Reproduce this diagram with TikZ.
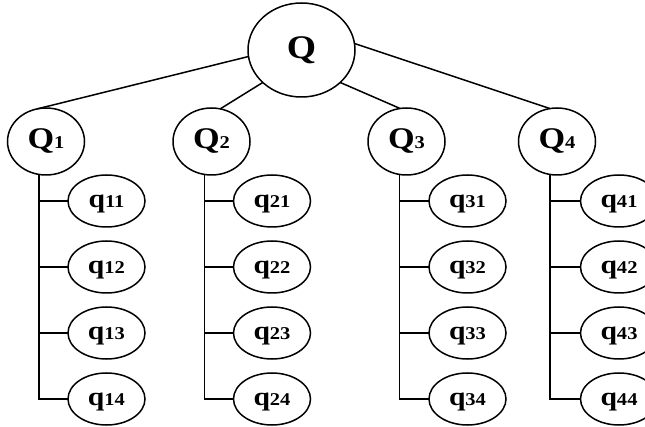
\documentclass[tikz,border=0pt]{standalone}
\usepackage{fontspec}
\setmainfont{Liberation Serif}[FakeStretch=1.14]
\usetikzlibrary{shapes.geometric}
\newcommand\smd[1]{{\fontsize{18}{18}\selectfont #1}}
\begin{document}
\begin{tikzpicture}[x=1pt,y=-1pt,line width=1.5pt,
  topnode/.style={ellipse,draw,minimum width=107pt,minimum height=94pt,inner sep=0pt,outer sep=0pt,font=\bfseries\fontsize{33}{33}\selectfont},
  midnode/.style={ellipse,draw,minimum width=77pt,minimum height=67pt,inner sep=0pt,outer sep=0pt,font=\bfseries\fontsize{30}{30}\selectfont},
  leafnode/.style={ellipse,draw,minimum width=77pt,minimum height=52pt,inner sep=0pt,outer sep=0pt,text depth=0pt,font=\bfseries\fontsize{26}{26}\selectfont},
  link/.style={draw,line width=1.5pt}]
\useasboundingbox (0,0) rectangle (645,427);
\clip (0,0) rectangle (645,427);

\node[topnode] (Q) at (301.5,50) {Q};
\node[midnode] (Q1) at (46,141.5) {Q\smd{1}};
\node[midnode] (Q2) at (211.5,141.5) {Q\smd{2}};
\node[midnode] (Q3) at (406.5,141.5) {Q\smd{3}};
\node[midnode] (Q4) at (557,141.5) {Q\smd{4}};

\foreach \i/\x in {1/106.5,2/272,3/467.5,4/619}{
  \foreach \j/\y in {1/201,2/267,3/333,4/399}{
    \node[leafnode] (q\i\j) at (\x,\y) {q\smd{\i\j}};
  }
}

\path[link] (Q.187.5) -- (Q1.105);
\path[link] (Q.220.6) -- (Q2.75);
\path[link] (Q.320) -- (Q3.101);
\path[link] (Q.7.5) -- (Q4.102);

\foreach \i in {1,2,3,4}{
  \path[link] (Q\i.258) |- (q\i4.west);
  \foreach \j in {1,2,3}{
    \path[link] (q\i\j.west) -- (q\i\j.west -| Q\i.258);
  }
}
\end{tikzpicture}
\end{document}
